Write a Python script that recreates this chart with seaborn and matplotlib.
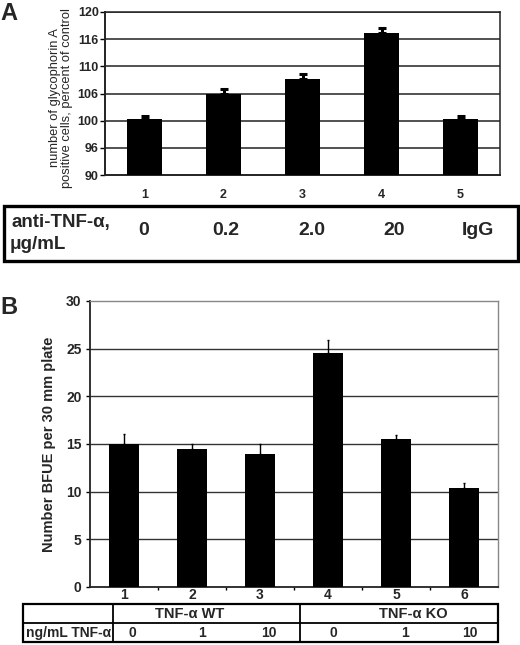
import matplotlib
matplotlib.use("Agg")
import matplotlib.pyplot as plt
import seaborn as sns
import pandas as pd
import numpy as np
from matplotlib.patches import Rectangle
from matplotlib.lines import Line2D

# ---------------- data ----------------
a_groups = ["1", "2", "3", "4", "5"]
a_means = [100.3, 104.9, 107.7, 116.2, 100.3]
a_err = [0.5, 0.9, 0.8, 0.9, 0.6]
a_ticks = [90, 95, 100, 105, 110, 115, 120]
a_ticklabels = ["90", "96", "100", "106", "110", "116", "120"]
a_doses = ["0", "0.2", "2.0", "20", "IgG"]

b_groups = ["1", "2", "3", "4", "5", "6"]
b_means = [15.0, 14.5, 14.0, 24.5, 15.5, 10.4]
b_err = [1.0, 0.5, 1.0, 1.4, 0.45, 0.5]
b_ticks = [0, 5, 10, 15, 20, 25, 30]
b_strains = ["TNF-α WT", "TNF-α KO"]
b_doses = ["0", "1", "10", "0", "1", "10"]

sns.set_theme(style="white")
plt.rcParams["font.family"] = ["Liberation Sans", "DejaVu Sans"]

W, H = 520, 645
fig = plt.figure(figsize=(W / 100, H / 100), dpi=100)


def fx(x):
    return x / W


def fy(y):
    return 1 - y / H


def axes_px(x0, y0, x1, y1):
    return fig.add_axes([fx(x0), fy(y1), (x1 - x0) / W, (y1 - y0) / H])


# ---------------- panel A ----------------
axA = axes_px(105, 12, 500, 175)
dfA = pd.DataFrame({"group": a_groups, "value": a_means})
sns.barplot(data=dfA, x="group", y="value", color="black", saturation=1,
            width=0.44, errorbar=None, ax=axA, zorder=3, edgecolor="black", linewidth=0)
axA.errorbar(np.arange(len(a_means)), a_means,
             yerr=[np.zeros(len(a_err)), a_err], fmt="none",
             ecolor="black", elinewidth=2.2, capsize=2.8, capthick=2.2, zorder=4)
axA.set_ylim(90, 120)
axA.set_xlim(-0.5, len(a_groups) - 0.5)
axA.set_yticks(a_ticks)
axA.set_yticklabels(a_ticklabels, fontsize=9, fontweight="bold")
axA.set_xticks(range(len(a_groups)))
axA.set_xticklabels(a_groups, fontsize=9, fontweight="bold")
axA.tick_params(axis="x", length=0, pad=10)
axA.tick_params(axis="y", length=3.5, width=1, direction="out", pad=1, color="black", left=True)
for y in a_ticks[1:]:
    axA.axhline(y, color="#222222", lw=1.1, zorder=1)
for s in ["left", "bottom", "top", "right"]:
    axA.spines[s].set_visible(True)
    axA.spines[s].set_color("#222222")
    axA.spines[s].set_linewidth(1.1)
axA.spines["left"].set_linewidth(1.4)
axA.spines["bottom"].set_linewidth(1.4)
axA.set_xlabel("")
axA.set_ylabel("")
fig.text(fx(61), fy(98), "number of glycophorin A\npositive cells, percent of control",
         rotation=90, ha="center", va="center", multialignment="center",
         fontsize=9.3, linespacing=1.0)

# table A
fig.add_artist(Rectangle((fx(4), fy(261)), (514) / W, (55) / H, transform=fig.transFigure,
                         fill=False, edgecolor="black", lw=2.4))
fig.text(fx(12), fy(222), "anti-TNF-α,", ha="left", va="center", fontsize=13.5, fontweight="bold")
fig.text(fx(10), fy(244), "μg/mL", ha="left", va="center", fontsize=13.5, fontweight="bold")
for xc, t in zip([144, 226, 312, 394, 478], a_doses):
    fig.text(fx(xc), fy(231), t, ha="center", va="center", fontsize=14, fontweight="bold")

fig.text(fx(0), fy(13), "A", ha="left", va="center", fontsize=17, fontweight="bold")

# ---------------- panel B ----------------
axB = axes_px(90, 301, 498, 587)
dfB = pd.DataFrame({"group": b_groups, "value": b_means})
sns.barplot(data=dfB, x="group", y="value", color="black", saturation=1,
            width=0.43, errorbar=None, ax=axB, zorder=3, edgecolor="black", linewidth=0)
axB.errorbar(np.arange(len(b_means)), b_means,
             yerr=[np.zeros(len(b_err)), b_err], fmt="none",
             ecolor="black", elinewidth=1.0, capsize=1.0, capthick=1.0, zorder=4)
axB.set_ylim(0, 30)
axB.set_xlim(-0.5, len(b_groups) - 0.5)
axB.set_yticks(b_ticks)
axB.set_yticklabels([str(t) for t in b_ticks], fontsize=10, fontweight="bold")
axB.set_xticks(range(len(b_groups)))
axB.set_xticklabels(b_groups, fontsize=10, fontweight="bold")
axB.set_xticks(np.arange(0.5, len(b_groups) - 0.5, 1), minor=True)
axB.tick_params(axis="x", which="major", length=0, pad=1)
axB.tick_params(axis="x", which="minor", length=2.5, width=1, direction="out", color="black", bottom=True)
axB.tick_params(axis="y", length=3, width=1, direction="out", pad=3, color="black", left=True)
for y in b_ticks[1:-1]:
    axB.axhline(y, color="#333333", lw=1.0, zorder=1)
for s in ["left", "bottom"]:
    axB.spines[s].set_visible(True)
    axB.spines[s].set_color("#222222")
    axB.spines[s].set_linewidth(1.3)
for s in ["top", "right"]:
    axB.spines[s].set_visible(True)
    axB.spines[s].set_color("#888888")
    axB.spines[s].set_linewidth(1.0)
axB.set_xlabel("")
axB.set_ylabel("")
fig.text(fx(49), fy(444), "Number BFUE per 30 mm plate", rotation=90,
         ha="center", va="center", fontsize=10.5, fontweight="bold")

# table B
fig.add_artist(Rectangle((fx(23), fy(642)), (475) / W, (38) / H, transform=fig.transFigure,
                         fill=False, edgecolor="black", lw=1.6))
fig.add_artist(Line2D([fx(23), fx(498)], [fy(623), fy(623)], transform=fig.transFigure,
                      color="black", lw=1.3))
for xv in [113, 300]:
    fig.add_artist(Line2D([fx(xv), fx(xv)], [fy(604), fy(642)], transform=fig.transFigure,
                          color="black", lw=1.3))
for xc, t in zip([190, 413], b_strains):
    fig.text(fx(xc), fy(614), t, ha="center", va="center", fontsize=10.5, fontweight="bold")
fig.text(fx(26), fy(633), "ng/mL TNF-α", ha="left", va="center", fontsize=10, fontweight="bold")
for xc, t in zip([132, 202, 269, 333, 405, 470], b_doses):
    fig.text(fx(xc), fy(633), t, ha="center", va="center", fontsize=10, fontweight="bold")

fig.text(fx(0), fy(307), "B", ha="left", va="center", fontsize=17, fontweight="bold")

fig.savefig("out.png", dpi=100, facecolor="white")
